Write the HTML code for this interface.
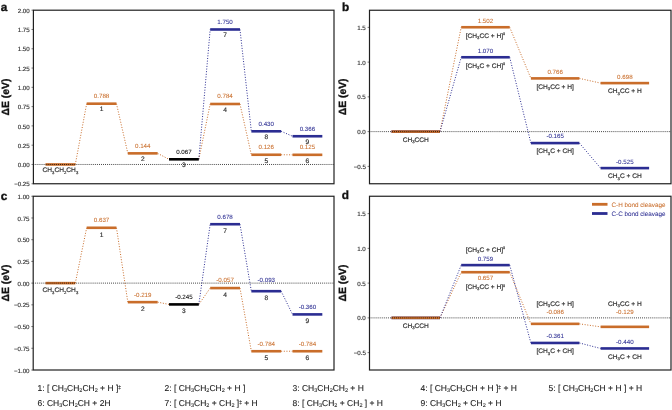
<!DOCTYPE html>
<html><head><meta charset="utf-8"><title>Energy diagrams</title>
<style>
html,body{margin:0;padding:0;background:#fff;}
svg{display:block;will-change:transform;text-rendering:geometricPrecision;font-family:"Liberation Sans", Arial, sans-serif;}
</style></head><body>
<svg width="672" height="410" viewBox="0 0 672 410">
<rect x="0" y="0" width="672" height="410" fill="#ffffff"/>
<line x1="75.30" y1="164.47" x2="86.67" y2="103.69" stroke="#c96d2a" stroke-width="1.0" stroke-dasharray="1.0 1.65"/>
<line x1="116.47" y1="103.69" x2="127.84" y2="153.36" stroke="#c96d2a" stroke-width="1.0" stroke-dasharray="1.0 1.65"/>
<line x1="157.64" y1="153.36" x2="169.01" y2="159.30" stroke="#c96d2a" stroke-width="1.0" stroke-dasharray="1.0 1.65"/>
<line x1="198.81" y1="159.30" x2="210.18" y2="103.99" stroke="#c96d2a" stroke-width="1.0" stroke-dasharray="1.0 1.65"/>
<line x1="239.98" y1="103.99" x2="251.35" y2="154.75" stroke="#c96d2a" stroke-width="1.0" stroke-dasharray="1.0 1.65"/>
<line x1="281.15" y1="154.75" x2="292.52" y2="154.82" stroke="#c96d2a" stroke-width="1.0" stroke-dasharray="1.0 1.65"/>
<line x1="198.81" y1="159.30" x2="210.18" y2="29.48" stroke="#2b2d92" stroke-width="1.0" stroke-dasharray="1.0 1.65"/>
<line x1="239.98" y1="29.48" x2="251.35" y2="131.30" stroke="#2b2d92" stroke-width="1.0" stroke-dasharray="1.0 1.65"/>
<line x1="281.15" y1="131.30" x2="292.52" y2="136.24" stroke="#2b2d92" stroke-width="1.0" stroke-dasharray="1.0 1.65"/>
<rect x="45.50" y="163.17" width="29.80" height="2.60" fill="#c96d2a"/>
<rect x="86.67" y="102.39" width="29.80" height="2.60" fill="#c96d2a"/>
<rect x="127.84" y="152.06" width="29.80" height="2.60" fill="#c96d2a"/>
<rect x="169.01" y="158.00" width="29.80" height="2.60" fill="#000000"/>
<rect x="210.18" y="102.69" width="29.80" height="2.60" fill="#c96d2a"/>
<rect x="251.35" y="153.45" width="29.80" height="2.60" fill="#c96d2a"/>
<rect x="292.52" y="153.52" width="29.80" height="2.60" fill="#c96d2a"/>
<rect x="210.18" y="28.18" width="29.80" height="2.60" fill="#2b2d92"/>
<rect x="251.35" y="130.00" width="29.80" height="2.60" fill="#2b2d92"/>
<rect x="292.52" y="134.94" width="29.80" height="2.60" fill="#2b2d92"/>
<line x1="33.40" y1="164.47" x2="334.00" y2="164.47" stroke="#000" stroke-width="0.85" stroke-dasharray="0.85 1.2"/>
<text x="60.40" y="172.47" font-size="6.60" fill="#2e2e2e" stroke="#2e2e2e" stroke-width="0.18" text-anchor="middle" font-weight="normal" >CH<tspan dy="1.3" font-size="64%">3</tspan><tspan dy="-1.3" font-size="1">&#8203;</tspan>CH<tspan dy="1.3" font-size="64%">2</tspan><tspan dy="-1.3" font-size="1">&#8203;</tspan>CH<tspan dy="1.3" font-size="64%">3</tspan><tspan dy="-1.3" font-size="1">&#8203;</tspan></text>
<text x="101.57" y="98.09" font-size="6.20" fill="#c96d2a" stroke="#c96d2a" stroke-width="0.05" text-anchor="middle" font-weight="normal" >0.788</text>
<text x="101.57" y="111.49" font-size="6.60" fill="#2e2e2e" stroke="#2e2e2e" stroke-width="0.18" text-anchor="middle" font-weight="normal" >1</text>
<text x="142.74" y="147.76" font-size="6.20" fill="#c96d2a" stroke="#c96d2a" stroke-width="0.05" text-anchor="middle" font-weight="normal" >0.144</text>
<text x="142.74" y="161.16" font-size="6.60" fill="#2e2e2e" stroke="#2e2e2e" stroke-width="0.18" text-anchor="middle" font-weight="normal" >2</text>
<text x="183.91" y="153.70" font-size="6.20" fill="#000000" stroke="#000000" stroke-width="0.05" text-anchor="middle" font-weight="normal" >0.067</text>
<text x="183.91" y="167.10" font-size="6.60" fill="#2e2e2e" stroke="#2e2e2e" stroke-width="0.18" text-anchor="middle" font-weight="normal" >3</text>
<text x="225.08" y="98.39" font-size="6.20" fill="#c96d2a" stroke="#c96d2a" stroke-width="0.05" text-anchor="middle" font-weight="normal" >0.784</text>
<text x="225.08" y="111.79" font-size="6.60" fill="#2e2e2e" stroke="#2e2e2e" stroke-width="0.18" text-anchor="middle" font-weight="normal" >4</text>
<text x="266.25" y="149.15" font-size="6.20" fill="#c96d2a" stroke="#c96d2a" stroke-width="0.05" text-anchor="middle" font-weight="normal" >0.126</text>
<text x="266.25" y="162.55" font-size="6.60" fill="#2e2e2e" stroke="#2e2e2e" stroke-width="0.18" text-anchor="middle" font-weight="normal" >5</text>
<text x="307.42" y="149.22" font-size="6.20" fill="#c96d2a" stroke="#c96d2a" stroke-width="0.05" text-anchor="middle" font-weight="normal" >0.125</text>
<text x="307.42" y="162.62" font-size="6.60" fill="#2e2e2e" stroke="#2e2e2e" stroke-width="0.18" text-anchor="middle" font-weight="normal" >6</text>
<text x="225.08" y="23.88" font-size="6.20" fill="#2b2d92" stroke="#2b2d92" stroke-width="0.05" text-anchor="middle" font-weight="normal" >1.750</text>
<text x="225.08" y="37.28" font-size="6.60" fill="#2e2e2e" stroke="#2e2e2e" stroke-width="0.18" text-anchor="middle" font-weight="normal" >7</text>
<text x="266.25" y="125.70" font-size="6.20" fill="#2b2d92" stroke="#2b2d92" stroke-width="0.05" text-anchor="middle" font-weight="normal" >0.430</text>
<text x="266.25" y="139.10" font-size="6.60" fill="#2e2e2e" stroke="#2e2e2e" stroke-width="0.18" text-anchor="middle" font-weight="normal" >8</text>
<text x="307.42" y="130.64" font-size="6.20" fill="#2b2d92" stroke="#2b2d92" stroke-width="0.05" text-anchor="middle" font-weight="normal" >0.366</text>
<text x="307.42" y="144.04" font-size="6.60" fill="#2e2e2e" stroke="#2e2e2e" stroke-width="0.18" text-anchor="middle" font-weight="normal" >9</text>
<rect x="33.40" y="10.20" width="300.60" height="173.55" fill="none" stroke="#202020" stroke-width="1.2"/>
<line x1="31.50" y1="10.20" x2="33.40" y2="10.20" stroke="#202020" stroke-width="0.6"/>
<text x="29.70" y="12.80" font-size="6.15" fill="#2e2e2e" stroke="#2e2e2e" stroke-width="0.14" text-anchor="end" font-weight="normal" >2.00</text>
<line x1="31.50" y1="29.48" x2="33.40" y2="29.48" stroke="#202020" stroke-width="0.6"/>
<text x="29.70" y="32.08" font-size="6.15" fill="#2e2e2e" stroke="#2e2e2e" stroke-width="0.14" text-anchor="end" font-weight="normal" >1.75</text>
<line x1="31.50" y1="48.77" x2="33.40" y2="48.77" stroke="#202020" stroke-width="0.6"/>
<text x="29.70" y="51.37" font-size="6.15" fill="#2e2e2e" stroke="#2e2e2e" stroke-width="0.14" text-anchor="end" font-weight="normal" >1.50</text>
<line x1="31.50" y1="68.05" x2="33.40" y2="68.05" stroke="#202020" stroke-width="0.6"/>
<text x="29.70" y="70.65" font-size="6.15" fill="#2e2e2e" stroke="#2e2e2e" stroke-width="0.14" text-anchor="end" font-weight="normal" >1.25</text>
<line x1="31.50" y1="87.33" x2="33.40" y2="87.33" stroke="#202020" stroke-width="0.6"/>
<text x="29.70" y="89.93" font-size="6.15" fill="#2e2e2e" stroke="#2e2e2e" stroke-width="0.14" text-anchor="end" font-weight="normal" >1.00</text>
<line x1="31.50" y1="106.62" x2="33.40" y2="106.62" stroke="#202020" stroke-width="0.6"/>
<text x="29.70" y="109.22" font-size="6.15" fill="#2e2e2e" stroke="#2e2e2e" stroke-width="0.14" text-anchor="end" font-weight="normal" >0.75</text>
<line x1="31.50" y1="125.90" x2="33.40" y2="125.90" stroke="#202020" stroke-width="0.6"/>
<text x="29.70" y="128.50" font-size="6.15" fill="#2e2e2e" stroke="#2e2e2e" stroke-width="0.14" text-anchor="end" font-weight="normal" >0.50</text>
<line x1="31.50" y1="145.18" x2="33.40" y2="145.18" stroke="#202020" stroke-width="0.6"/>
<text x="29.70" y="147.78" font-size="6.15" fill="#2e2e2e" stroke="#2e2e2e" stroke-width="0.14" text-anchor="end" font-weight="normal" >0.25</text>
<line x1="31.50" y1="164.47" x2="33.40" y2="164.47" stroke="#202020" stroke-width="0.6"/>
<text x="29.70" y="167.07" font-size="6.15" fill="#2e2e2e" stroke="#2e2e2e" stroke-width="0.14" text-anchor="end" font-weight="normal" >0.00</text>
<line x1="31.50" y1="183.75" x2="33.40" y2="183.75" stroke="#202020" stroke-width="0.6"/>
<text x="29.70" y="186.35" font-size="6.15" fill="#2e2e2e" stroke="#2e2e2e" stroke-width="0.14" text-anchor="end" font-weight="normal" >−0.25</text>
<text transform="translate(8.90 96.97) rotate(-90)" font-size="10.4" font-weight="bold" fill="#111" stroke="#111" stroke-width="0.35" text-anchor="middle">ΔE (eV)</text>
<text x="0.80" y="10.60" font-size="11.80" fill="#111" stroke="#111" stroke-width="0.35" text-anchor="start" font-weight="bold" >a</text>
<line x1="75.30" y1="283.12" x2="86.67" y2="227.79" stroke="#c96d2a" stroke-width="1.0" stroke-dasharray="1.0 1.65"/>
<line x1="116.47" y1="227.79" x2="127.84" y2="302.15" stroke="#c96d2a" stroke-width="1.0" stroke-dasharray="1.0 1.65"/>
<line x1="157.64" y1="302.15" x2="169.01" y2="304.41" stroke="#c96d2a" stroke-width="1.0" stroke-dasharray="1.0 1.65"/>
<line x1="198.81" y1="304.41" x2="210.18" y2="288.08" stroke="#c96d2a" stroke-width="1.0" stroke-dasharray="1.0 1.65"/>
<line x1="239.98" y1="288.08" x2="251.35" y2="351.24" stroke="#c96d2a" stroke-width="1.0" stroke-dasharray="1.0 1.65"/>
<line x1="281.15" y1="351.24" x2="292.52" y2="351.24" stroke="#c96d2a" stroke-width="1.0" stroke-dasharray="1.0 1.65"/>
<line x1="198.81" y1="304.41" x2="210.18" y2="224.22" stroke="#2b2d92" stroke-width="1.0" stroke-dasharray="1.0 1.65"/>
<line x1="239.98" y1="224.22" x2="251.35" y2="291.20" stroke="#2b2d92" stroke-width="1.0" stroke-dasharray="1.0 1.65"/>
<line x1="281.15" y1="291.20" x2="292.52" y2="314.40" stroke="#2b2d92" stroke-width="1.0" stroke-dasharray="1.0 1.65"/>
<rect x="45.50" y="281.82" width="29.80" height="2.60" fill="#c96d2a"/>
<rect x="86.67" y="226.49" width="29.80" height="2.60" fill="#c96d2a"/>
<rect x="127.84" y="300.85" width="29.80" height="2.60" fill="#c96d2a"/>
<rect x="169.01" y="303.11" width="29.80" height="2.60" fill="#000000"/>
<rect x="210.18" y="286.78" width="29.80" height="2.60" fill="#c96d2a"/>
<rect x="251.35" y="349.94" width="29.80" height="2.60" fill="#c96d2a"/>
<rect x="292.52" y="349.94" width="29.80" height="2.60" fill="#c96d2a"/>
<rect x="210.18" y="222.92" width="29.80" height="2.60" fill="#2b2d92"/>
<rect x="251.35" y="289.90" width="29.80" height="2.60" fill="#2b2d92"/>
<rect x="292.52" y="313.10" width="29.80" height="2.60" fill="#2b2d92"/>
<line x1="33.20" y1="283.12" x2="334.00" y2="283.12" stroke="#000" stroke-width="0.85" stroke-dasharray="0.85 1.2"/>
<text x="60.40" y="292.32" font-size="6.60" fill="#2e2e2e" stroke="#2e2e2e" stroke-width="0.18" text-anchor="middle" font-weight="normal" >CH<tspan dy="1.3" font-size="64%">3</tspan><tspan dy="-1.3" font-size="1">&#8203;</tspan>CH<tspan dy="1.3" font-size="64%">2</tspan><tspan dy="-1.3" font-size="1">&#8203;</tspan>CH<tspan dy="1.3" font-size="64%">3</tspan><tspan dy="-1.3" font-size="1">&#8203;</tspan></text>
<text x="101.57" y="222.19" font-size="6.20" fill="#c96d2a" stroke="#c96d2a" stroke-width="0.05" text-anchor="middle" font-weight="normal" >0.637</text>
<text x="101.57" y="236.79" font-size="6.60" fill="#2e2e2e" stroke="#2e2e2e" stroke-width="0.18" text-anchor="middle" font-weight="normal" >1</text>
<text x="142.74" y="296.55" font-size="6.20" fill="#c96d2a" stroke="#c96d2a" stroke-width="0.05" text-anchor="middle" font-weight="normal" >-0.219</text>
<text x="142.74" y="311.15" font-size="6.60" fill="#2e2e2e" stroke="#2e2e2e" stroke-width="0.18" text-anchor="middle" font-weight="normal" >2</text>
<text x="183.91" y="298.81" font-size="6.20" fill="#000000" stroke="#000000" stroke-width="0.05" text-anchor="middle" font-weight="normal" >-0.245</text>
<text x="183.91" y="313.41" font-size="6.60" fill="#2e2e2e" stroke="#2e2e2e" stroke-width="0.18" text-anchor="middle" font-weight="normal" >3</text>
<text x="225.08" y="282.48" font-size="6.20" fill="#c96d2a" stroke="#c96d2a" stroke-width="0.05" text-anchor="middle" font-weight="normal" >-0.057</text>
<text x="225.08" y="297.08" font-size="6.60" fill="#2e2e2e" stroke="#2e2e2e" stroke-width="0.18" text-anchor="middle" font-weight="normal" >4</text>
<text x="266.25" y="345.63" font-size="6.20" fill="#c96d2a" stroke="#c96d2a" stroke-width="0.05" text-anchor="middle" font-weight="normal" >-0.784</text>
<text x="266.25" y="360.24" font-size="6.60" fill="#2e2e2e" stroke="#2e2e2e" stroke-width="0.18" text-anchor="middle" font-weight="normal" >5</text>
<text x="307.42" y="345.63" font-size="6.20" fill="#c96d2a" stroke="#c96d2a" stroke-width="0.05" text-anchor="middle" font-weight="normal" >-0.784</text>
<text x="307.42" y="360.24" font-size="6.60" fill="#2e2e2e" stroke="#2e2e2e" stroke-width="0.18" text-anchor="middle" font-weight="normal" >6</text>
<text x="225.08" y="218.62" font-size="6.20" fill="#2b2d92" stroke="#2b2d92" stroke-width="0.05" text-anchor="middle" font-weight="normal" >0.678</text>
<text x="225.08" y="233.22" font-size="6.60" fill="#2e2e2e" stroke="#2e2e2e" stroke-width="0.18" text-anchor="middle" font-weight="normal" >7</text>
<text x="266.25" y="281.60" font-size="6.20" fill="#2b2d92" stroke="#2b2d92" stroke-width="0.05" text-anchor="middle" font-weight="normal" >-0.093</text>
<text x="266.25" y="300.20" font-size="6.60" fill="#2e2e2e" stroke="#2e2e2e" stroke-width="0.18" text-anchor="middle" font-weight="normal" >8</text>
<text x="307.42" y="308.80" font-size="6.20" fill="#2b2d92" stroke="#2b2d92" stroke-width="0.05" text-anchor="middle" font-weight="normal" >-0.360</text>
<text x="307.42" y="323.40" font-size="6.60" fill="#2e2e2e" stroke="#2e2e2e" stroke-width="0.18" text-anchor="middle" font-weight="normal" >9</text>
<rect x="33.20" y="196.25" width="300.80" height="173.75" fill="none" stroke="#202020" stroke-width="1.2"/>
<line x1="31.30" y1="196.25" x2="33.20" y2="196.25" stroke="#202020" stroke-width="0.6"/>
<text x="29.50" y="198.85" font-size="6.15" fill="#2e2e2e" stroke="#2e2e2e" stroke-width="0.14" text-anchor="end" font-weight="normal" >1.00</text>
<line x1="31.30" y1="217.97" x2="33.20" y2="217.97" stroke="#202020" stroke-width="0.6"/>
<text x="29.50" y="220.57" font-size="6.15" fill="#2e2e2e" stroke="#2e2e2e" stroke-width="0.14" text-anchor="end" font-weight="normal" >0.75</text>
<line x1="31.30" y1="239.69" x2="33.20" y2="239.69" stroke="#202020" stroke-width="0.6"/>
<text x="29.50" y="242.29" font-size="6.15" fill="#2e2e2e" stroke="#2e2e2e" stroke-width="0.14" text-anchor="end" font-weight="normal" >0.50</text>
<line x1="31.30" y1="261.41" x2="33.20" y2="261.41" stroke="#202020" stroke-width="0.6"/>
<text x="29.50" y="264.01" font-size="6.15" fill="#2e2e2e" stroke="#2e2e2e" stroke-width="0.14" text-anchor="end" font-weight="normal" >0.25</text>
<line x1="31.30" y1="283.12" x2="33.20" y2="283.12" stroke="#202020" stroke-width="0.6"/>
<text x="29.50" y="285.73" font-size="6.15" fill="#2e2e2e" stroke="#2e2e2e" stroke-width="0.14" text-anchor="end" font-weight="normal" >0.00</text>
<line x1="31.30" y1="304.84" x2="33.20" y2="304.84" stroke="#202020" stroke-width="0.6"/>
<text x="29.50" y="307.44" font-size="6.15" fill="#2e2e2e" stroke="#2e2e2e" stroke-width="0.14" text-anchor="end" font-weight="normal" >−0.25</text>
<line x1="31.30" y1="326.56" x2="33.20" y2="326.56" stroke="#202020" stroke-width="0.6"/>
<text x="29.50" y="329.16" font-size="6.15" fill="#2e2e2e" stroke="#2e2e2e" stroke-width="0.14" text-anchor="end" font-weight="normal" >−0.50</text>
<line x1="31.30" y1="348.28" x2="33.20" y2="348.28" stroke="#202020" stroke-width="0.6"/>
<text x="29.50" y="350.88" font-size="6.15" fill="#2e2e2e" stroke="#2e2e2e" stroke-width="0.14" text-anchor="end" font-weight="normal" >−0.75</text>
<line x1="31.30" y1="370.00" x2="33.20" y2="370.00" stroke="#202020" stroke-width="0.6"/>
<text x="29.50" y="372.60" font-size="6.15" fill="#2e2e2e" stroke="#2e2e2e" stroke-width="0.14" text-anchor="end" font-weight="normal" >−1.00</text>
<text transform="translate(8.90 283.12) rotate(-90)" font-size="10.4" font-weight="bold" fill="#111" stroke="#111" stroke-width="0.35" text-anchor="middle">ΔE (eV)</text>
<text x="0.70" y="199.60" font-size="11.80" fill="#111" stroke="#111" stroke-width="0.35" text-anchor="start" font-weight="bold" >c</text>
<line x1="440.00" y1="131.62" x2="461.20" y2="27.24" stroke="#c96d2a" stroke-width="1.0" stroke-dasharray="1.0 1.65"/>
<line x1="509.70" y1="27.24" x2="530.90" y2="78.39" stroke="#c96d2a" stroke-width="1.0" stroke-dasharray="1.0 1.65"/>
<line x1="579.40" y1="78.39" x2="600.60" y2="83.11" stroke="#c96d2a" stroke-width="1.0" stroke-dasharray="1.0 1.65"/>
<line x1="440.00" y1="131.62" x2="461.20" y2="57.26" stroke="#2b2d92" stroke-width="1.0" stroke-dasharray="1.0 1.65"/>
<line x1="509.70" y1="57.26" x2="530.90" y2="143.09" stroke="#2b2d92" stroke-width="1.0" stroke-dasharray="1.0 1.65"/>
<line x1="579.40" y1="143.09" x2="600.60" y2="168.11" stroke="#2b2d92" stroke-width="1.0" stroke-dasharray="1.0 1.65"/>
<rect x="391.50" y="130.32" width="48.50" height="2.60" fill="#2b2d92"/>
<rect x="391.50" y="130.32" width="48.50" height="2.60" fill="#c96d2a"/>
<rect x="461.20" y="25.94" width="48.50" height="2.60" fill="#c96d2a"/>
<rect x="530.90" y="77.09" width="48.50" height="2.60" fill="#c96d2a"/>
<rect x="600.60" y="81.81" width="48.50" height="2.60" fill="#c96d2a"/>
<rect x="461.20" y="55.96" width="48.50" height="2.60" fill="#2b2d92"/>
<rect x="530.90" y="141.79" width="48.50" height="2.60" fill="#2b2d92"/>
<rect x="600.60" y="166.81" width="48.50" height="2.60" fill="#2b2d92"/>
<line x1="369.50" y1="131.62" x2="671.00" y2="131.62" stroke="#000" stroke-width="0.85" stroke-dasharray="0.85 1.2"/>
<text x="415.75" y="141.72" font-size="6.60" fill="#2e2e2e" stroke="#2e2e2e" stroke-width="0.18" text-anchor="middle" font-weight="normal" >CH<tspan dy="1.3" font-size="64%">3</tspan><tspan dy="-1.3" font-size="1">&#8203;</tspan>CCH</text>
<text x="485.45" y="22.64" font-size="6.20" fill="#c96d2a" stroke="#c96d2a" stroke-width="0.05" text-anchor="middle" font-weight="normal" >1.502</text>
<text x="485.45" y="37.64" font-size="6.60" fill="#2e2e2e" stroke="#2e2e2e" stroke-width="0.18" text-anchor="middle" font-weight="normal" >[CH<tspan dy="1.3" font-size="64%">3</tspan><tspan dy="-1.3" font-size="1">&#8203;</tspan>CC + H]<tspan dy="-2.2" font-size="58%">‡</tspan><tspan dy="2.2" font-size="1">&#8203;</tspan></text>
<text x="555.15" y="73.79" font-size="6.20" fill="#c96d2a" stroke="#c96d2a" stroke-width="0.05" text-anchor="middle" font-weight="normal" >0.766</text>
<text x="555.15" y="88.79" font-size="6.60" fill="#2e2e2e" stroke="#2e2e2e" stroke-width="0.18" text-anchor="middle" font-weight="normal" >[CH<tspan dy="1.3" font-size="64%">3</tspan><tspan dy="-1.3" font-size="1">&#8203;</tspan>CC + H]</text>
<text x="624.85" y="78.51" font-size="6.20" fill="#c96d2a" stroke="#c96d2a" stroke-width="0.05" text-anchor="middle" font-weight="normal" >0.698</text>
<text x="624.85" y="93.21" font-size="6.60" fill="#2e2e2e" stroke="#2e2e2e" stroke-width="0.18" text-anchor="middle" font-weight="normal" >CH<tspan dy="1.3" font-size="64%">3</tspan><tspan dy="-1.3" font-size="1">&#8203;</tspan>CC + H</text>
<text x="485.45" y="52.66" font-size="6.20" fill="#2b2d92" stroke="#2b2d92" stroke-width="0.05" text-anchor="middle" font-weight="normal" >1.070</text>
<text x="485.45" y="67.66" font-size="6.60" fill="#2e2e2e" stroke="#2e2e2e" stroke-width="0.18" text-anchor="middle" font-weight="normal" >[CH<tspan dy="1.3" font-size="64%">3</tspan><tspan dy="-1.3" font-size="1">&#8203;</tspan>C + CH]<tspan dy="-2.2" font-size="58%">‡</tspan><tspan dy="2.2" font-size="1">&#8203;</tspan></text>
<text x="555.15" y="138.49" font-size="6.20" fill="#2b2d92" stroke="#2b2d92" stroke-width="0.05" text-anchor="middle" font-weight="normal" >-0.165</text>
<text x="555.15" y="153.49" font-size="6.60" fill="#2e2e2e" stroke="#2e2e2e" stroke-width="0.18" text-anchor="middle" font-weight="normal" >[CH<tspan dy="1.3" font-size="64%">3</tspan><tspan dy="-1.3" font-size="1">&#8203;</tspan>C + CH]</text>
<text x="624.85" y="163.51" font-size="6.20" fill="#2b2d92" stroke="#2b2d92" stroke-width="0.05" text-anchor="middle" font-weight="normal" >-0.525</text>
<text x="624.85" y="178.21" font-size="6.60" fill="#2e2e2e" stroke="#2e2e2e" stroke-width="0.18" text-anchor="middle" font-weight="normal" >CH<tspan dy="1.3" font-size="64%">3</tspan><tspan dy="-1.3" font-size="1">&#8203;</tspan>C + CH</text>
<rect x="369.50" y="10.25" width="301.50" height="173.50" fill="none" stroke="#202020" stroke-width="1.2"/>
<line x1="367.60" y1="27.38" x2="369.50" y2="27.38" stroke="#202020" stroke-width="0.6"/>
<text x="365.80" y="29.98" font-size="6.15" fill="#2e2e2e" stroke="#2e2e2e" stroke-width="0.14" text-anchor="end" font-weight="normal" >1.5</text>
<line x1="367.60" y1="62.12" x2="369.50" y2="62.12" stroke="#202020" stroke-width="0.6"/>
<text x="365.80" y="64.72" font-size="6.15" fill="#2e2e2e" stroke="#2e2e2e" stroke-width="0.14" text-anchor="end" font-weight="normal" >1.0</text>
<line x1="367.60" y1="96.88" x2="369.50" y2="96.88" stroke="#202020" stroke-width="0.6"/>
<text x="365.80" y="99.47" font-size="6.15" fill="#2e2e2e" stroke="#2e2e2e" stroke-width="0.14" text-anchor="end" font-weight="normal" >0.5</text>
<line x1="367.60" y1="131.62" x2="369.50" y2="131.62" stroke="#202020" stroke-width="0.6"/>
<text x="365.80" y="134.22" font-size="6.15" fill="#2e2e2e" stroke="#2e2e2e" stroke-width="0.14" text-anchor="end" font-weight="normal" >0.0</text>
<line x1="367.60" y1="166.38" x2="369.50" y2="166.38" stroke="#202020" stroke-width="0.6"/>
<text x="365.80" y="168.97" font-size="6.15" fill="#2e2e2e" stroke="#2e2e2e" stroke-width="0.14" text-anchor="end" font-weight="normal" >−0.5</text>
<text transform="translate(346.00 96.88) rotate(-90)" font-size="10.4" font-weight="bold" fill="#111" stroke="#111" stroke-width="0.35" text-anchor="middle">ΔE (eV)</text>
<text x="342.00" y="10.50" font-size="11.80" fill="#111" stroke="#111" stroke-width="0.35" text-anchor="start" font-weight="bold" >b</text>
<line x1="440.00" y1="317.88" x2="461.20" y2="272.21" stroke="#c96d2a" stroke-width="1.0" stroke-dasharray="1.0 1.65"/>
<line x1="509.70" y1="272.21" x2="530.90" y2="323.85" stroke="#c96d2a" stroke-width="1.0" stroke-dasharray="1.0 1.65"/>
<line x1="579.40" y1="323.85" x2="600.60" y2="326.84" stroke="#c96d2a" stroke-width="1.0" stroke-dasharray="1.0 1.65"/>
<line x1="440.00" y1="317.88" x2="461.20" y2="265.12" stroke="#2b2d92" stroke-width="1.0" stroke-dasharray="1.0 1.65"/>
<line x1="509.70" y1="265.12" x2="530.90" y2="342.96" stroke="#2b2d92" stroke-width="1.0" stroke-dasharray="1.0 1.65"/>
<line x1="579.40" y1="342.96" x2="600.60" y2="348.45" stroke="#2b2d92" stroke-width="1.0" stroke-dasharray="1.0 1.65"/>
<rect x="391.50" y="316.57" width="48.50" height="2.60" fill="#2b2d92"/>
<rect x="391.50" y="316.57" width="48.50" height="2.60" fill="#c96d2a"/>
<rect x="461.20" y="263.82" width="48.50" height="2.60" fill="#2b2d92"/>
<rect x="461.20" y="270.91" width="48.50" height="2.60" fill="#c96d2a"/>
<rect x="530.90" y="322.55" width="48.50" height="2.60" fill="#c96d2a"/>
<rect x="600.60" y="325.54" width="48.50" height="2.60" fill="#c96d2a"/>
<rect x="530.90" y="341.66" width="48.50" height="2.60" fill="#2b2d92"/>
<rect x="600.60" y="347.15" width="48.50" height="2.60" fill="#2b2d92"/>
<line x1="369.50" y1="317.88" x2="671.00" y2="317.88" stroke="#000" stroke-width="0.85" stroke-dasharray="0.85 1.2"/>
<text x="415.75" y="327.98" font-size="6.60" fill="#2e2e2e" stroke="#2e2e2e" stroke-width="0.18" text-anchor="middle" font-weight="normal" >CH<tspan dy="1.3" font-size="64%">3</tspan><tspan dy="-1.3" font-size="1">&#8203;</tspan>CCH</text>
<text x="485.45" y="260.52" font-size="6.20" fill="#2b2d92" stroke="#2b2d92" stroke-width="0.05" text-anchor="middle" font-weight="normal" >0.759</text>
<text x="485.45" y="251.52" font-size="6.60" fill="#2e2e2e" stroke="#2e2e2e" stroke-width="0.18" text-anchor="middle" font-weight="normal" >[CH<tspan dy="1.3" font-size="64%">3</tspan><tspan dy="-1.3" font-size="1">&#8203;</tspan>C + CH]<tspan dy="-2.2" font-size="58%">‡</tspan><tspan dy="2.2" font-size="1">&#8203;</tspan></text>
<text x="485.45" y="280.21" font-size="6.20" fill="#c96d2a" stroke="#c96d2a" stroke-width="0.05" text-anchor="middle" font-weight="normal" >0.657</text>
<text x="485.45" y="288.71" font-size="6.60" fill="#2e2e2e" stroke="#2e2e2e" stroke-width="0.18" text-anchor="middle" font-weight="normal" >[CH<tspan dy="1.3" font-size="64%">3</tspan><tspan dy="-1.3" font-size="1">&#8203;</tspan>CC + H]<tspan dy="-2.2" font-size="58%">‡</tspan><tspan dy="2.2" font-size="1">&#8203;</tspan></text>
<text x="555.15" y="314.07" font-size="6.20" fill="#c96d2a" stroke="#c96d2a" stroke-width="0.05" text-anchor="middle" font-weight="normal" >-0.086</text>
<text x="555.15" y="306.07" font-size="6.60" fill="#2e2e2e" stroke="#2e2e2e" stroke-width="0.18" text-anchor="middle" font-weight="normal" >[CH<tspan dy="1.3" font-size="64%">3</tspan><tspan dy="-1.3" font-size="1">&#8203;</tspan>CC + H]</text>
<text x="624.85" y="314.07" font-size="6.20" fill="#c96d2a" stroke="#c96d2a" stroke-width="0.05" text-anchor="middle" font-weight="normal" >-0.129</text>
<text x="624.85" y="305.88" font-size="6.60" fill="#2e2e2e" stroke="#2e2e2e" stroke-width="0.18" text-anchor="middle" font-weight="normal" >CH<tspan dy="1.3" font-size="64%">3</tspan><tspan dy="-1.3" font-size="1">&#8203;</tspan>CC + H</text>
<text x="555.15" y="338.36" font-size="6.20" fill="#2b2d92" stroke="#2b2d92" stroke-width="0.05" text-anchor="middle" font-weight="normal" >-0.361</text>
<text x="555.15" y="353.36" font-size="6.60" fill="#2e2e2e" stroke="#2e2e2e" stroke-width="0.18" text-anchor="middle" font-weight="normal" >[CH<tspan dy="1.3" font-size="64%">3</tspan><tspan dy="-1.3" font-size="1">&#8203;</tspan>C + CH]</text>
<text x="624.85" y="343.85" font-size="6.20" fill="#2b2d92" stroke="#2b2d92" stroke-width="0.05" text-anchor="middle" font-weight="normal" >-0.440</text>
<text x="624.85" y="358.56" font-size="6.60" fill="#2e2e2e" stroke="#2e2e2e" stroke-width="0.18" text-anchor="middle" font-weight="normal" >CH<tspan dy="1.3" font-size="64%">3</tspan><tspan dy="-1.3" font-size="1">&#8203;</tspan>C + CH</text>
<rect x="369.50" y="196.25" width="301.50" height="173.75" fill="none" stroke="#202020" stroke-width="1.2"/>
<line x1="367.60" y1="213.62" x2="369.50" y2="213.62" stroke="#202020" stroke-width="0.6"/>
<text x="365.80" y="216.22" font-size="6.15" fill="#2e2e2e" stroke="#2e2e2e" stroke-width="0.14" text-anchor="end" font-weight="normal" >1.5</text>
<line x1="367.60" y1="248.38" x2="369.50" y2="248.38" stroke="#202020" stroke-width="0.6"/>
<text x="365.80" y="250.97" font-size="6.15" fill="#2e2e2e" stroke="#2e2e2e" stroke-width="0.14" text-anchor="end" font-weight="normal" >1.0</text>
<line x1="367.60" y1="283.12" x2="369.50" y2="283.12" stroke="#202020" stroke-width="0.6"/>
<text x="365.80" y="285.73" font-size="6.15" fill="#2e2e2e" stroke="#2e2e2e" stroke-width="0.14" text-anchor="end" font-weight="normal" >0.5</text>
<line x1="367.60" y1="317.88" x2="369.50" y2="317.88" stroke="#202020" stroke-width="0.6"/>
<text x="365.80" y="320.48" font-size="6.15" fill="#2e2e2e" stroke="#2e2e2e" stroke-width="0.14" text-anchor="end" font-weight="normal" >0.0</text>
<line x1="367.60" y1="352.62" x2="369.50" y2="352.62" stroke="#202020" stroke-width="0.6"/>
<text x="365.80" y="355.23" font-size="6.15" fill="#2e2e2e" stroke="#2e2e2e" stroke-width="0.14" text-anchor="end" font-weight="normal" >−0.5</text>
<text transform="translate(346.00 283.12) rotate(-90)" font-size="10.4" font-weight="bold" fill="#111" stroke="#111" stroke-width="0.35" text-anchor="middle">ΔE (eV)</text>
<text x="341.80" y="199.40" font-size="11.80" fill="#111" stroke="#111" stroke-width="0.35" text-anchor="start" font-weight="bold" >d</text>
<rect x="592" y="202.9" width="15.5" height="2.8" fill="#c96d2a"/>
<rect x="592" y="212.1" width="15.5" height="2.8" fill="#2b2d92"/>
<text x="611.50" y="206.60" font-size="6.30" fill="#c96d2a" stroke="#c96d2a" stroke-width="0.05" text-anchor="start" font-weight="normal" >C-H bond cleavage</text>
<text x="611.50" y="215.80" font-size="6.30" fill="#2b2d92" stroke="#2b2d92" stroke-width="0.05" text-anchor="start" font-weight="normal" >C-C bond cleavage</text>
<text x="37.50" y="391.00" font-size="8.52" fill="#1a1a1a" stroke="#1a1a1a" stroke-width="0.10" text-anchor="start" font-weight="normal" >1: [ CH<tspan dy="1.3" font-size="64%">3</tspan><tspan dy="-1.3" font-size="1">&#8203;</tspan>CH<tspan dy="1.3" font-size="64%">2</tspan><tspan dy="-1.3" font-size="1">&#8203;</tspan>CH<tspan dy="1.3" font-size="64%">2</tspan><tspan dy="-1.3" font-size="1">&#8203;</tspan> + H ]<tspan dy="-2.2" font-size="58%">‡</tspan><tspan dy="2.2" font-size="1">&#8203;</tspan></text>
<text x="164.50" y="391.00" font-size="8.52" fill="#1a1a1a" stroke="#1a1a1a" stroke-width="0.10" text-anchor="start" font-weight="normal" >2: [ CH<tspan dy="1.3" font-size="64%">3</tspan><tspan dy="-1.3" font-size="1">&#8203;</tspan>CH<tspan dy="1.3" font-size="64%">2</tspan><tspan dy="-1.3" font-size="1">&#8203;</tspan>CH<tspan dy="1.3" font-size="64%">2</tspan><tspan dy="-1.3" font-size="1">&#8203;</tspan> + H ]</text>
<text x="292.50" y="391.00" font-size="8.52" fill="#1a1a1a" stroke="#1a1a1a" stroke-width="0.10" text-anchor="start" font-weight="normal" >3: CH<tspan dy="1.3" font-size="64%">3</tspan><tspan dy="-1.3" font-size="1">&#8203;</tspan>CH<tspan dy="1.3" font-size="64%">2</tspan><tspan dy="-1.3" font-size="1">&#8203;</tspan>CH<tspan dy="1.3" font-size="64%">2</tspan><tspan dy="-1.3" font-size="1">&#8203;</tspan> + H</text>
<text x="420.50" y="391.00" font-size="8.52" fill="#1a1a1a" stroke="#1a1a1a" stroke-width="0.10" text-anchor="start" font-weight="normal" >4: [ CH<tspan dy="1.3" font-size="64%">3</tspan><tspan dy="-1.3" font-size="1">&#8203;</tspan>CH<tspan dy="1.3" font-size="64%">2</tspan><tspan dy="-1.3" font-size="1">&#8203;</tspan>CH + H ]<tspan dy="-2.2" font-size="58%">‡</tspan><tspan dy="2.2" font-size="1">&#8203;</tspan> + H</text>
<text x="548.50" y="391.00" font-size="8.52" fill="#1a1a1a" stroke="#1a1a1a" stroke-width="0.10" text-anchor="start" font-weight="normal" >5: [ CH<tspan dy="1.3" font-size="64%">3</tspan><tspan dy="-1.3" font-size="1">&#8203;</tspan>CH<tspan dy="1.3" font-size="64%">2</tspan><tspan dy="-1.3" font-size="1">&#8203;</tspan>CH + H ] + H</text>
<text x="37.50" y="405.80" font-size="8.52" fill="#1a1a1a" stroke="#1a1a1a" stroke-width="0.10" text-anchor="start" font-weight="normal" >6: CH<tspan dy="1.3" font-size="64%">3</tspan><tspan dy="-1.3" font-size="1">&#8203;</tspan>CH<tspan dy="1.3" font-size="64%">2</tspan><tspan dy="-1.3" font-size="1">&#8203;</tspan>CH + 2H</text>
<text x="164.50" y="405.80" font-size="8.52" fill="#1a1a1a" stroke="#1a1a1a" stroke-width="0.10" text-anchor="start" font-weight="normal" >7: [ CH<tspan dy="1.3" font-size="64%">3</tspan><tspan dy="-1.3" font-size="1">&#8203;</tspan>CH<tspan dy="1.3" font-size="64%">2</tspan><tspan dy="-1.3" font-size="1">&#8203;</tspan> + CH<tspan dy="1.3" font-size="64%">2</tspan><tspan dy="-1.3" font-size="1">&#8203;</tspan> ]<tspan dy="-2.2" font-size="58%">‡</tspan><tspan dy="2.2" font-size="1">&#8203;</tspan> + H</text>
<text x="292.50" y="405.80" font-size="8.52" fill="#1a1a1a" stroke="#1a1a1a" stroke-width="0.10" text-anchor="start" font-weight="normal" >8: [ CH<tspan dy="1.3" font-size="64%">3</tspan><tspan dy="-1.3" font-size="1">&#8203;</tspan>CH<tspan dy="1.3" font-size="64%">2</tspan><tspan dy="-1.3" font-size="1">&#8203;</tspan> + CH<tspan dy="1.3" font-size="64%">2</tspan><tspan dy="-1.3" font-size="1">&#8203;</tspan> ] + H</text>
<text x="420.50" y="405.80" font-size="8.52" fill="#1a1a1a" stroke="#1a1a1a" stroke-width="0.10" text-anchor="start" font-weight="normal" >9: CH<tspan dy="1.3" font-size="64%">3</tspan><tspan dy="-1.3" font-size="1">&#8203;</tspan>CH<tspan dy="1.3" font-size="64%">2</tspan><tspan dy="-1.3" font-size="1">&#8203;</tspan> + CH<tspan dy="1.3" font-size="64%">2</tspan><tspan dy="-1.3" font-size="1">&#8203;</tspan> + H</text>
</svg>
</body></html>
